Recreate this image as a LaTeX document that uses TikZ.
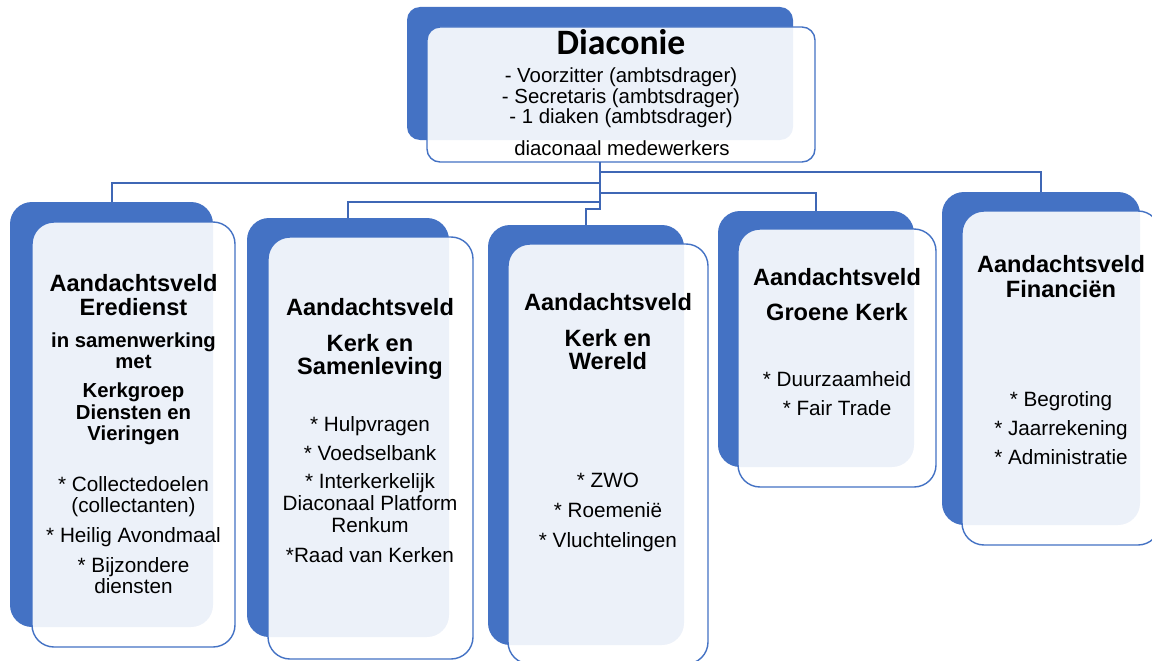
\documentclass[tikz,border=0pt]{standalone}
\usepackage{fontspec}
\setmainfont{Liberation Sans}
\newfontfamily\calibrifont{Carlito}
\definecolor{ablue}{HTML}{4472C4}
\definecolor{lblue}{HTML}{3F67B5}
\begin{document}
\begin{tikzpicture}[x=1pt,y=-1pt,
  backbox/.style={rectangle, fill=ablue, draw=none, rounded corners=22pt, inner sep=0pt, outer sep=0pt},
  frontbox/.style={rectangle, fill=white, fill opacity=0.9, draw=ablue, line width=1.4pt, rounded corners=22pt, inner sep=0pt, outer sep=0pt},
  conn/.style={draw=lblue, line width=2pt},
  ttl/.style={anchor=base, inner sep=0pt, font=\fontsize{23.6}{24}\selectfont\bfseries},
  sub/.style={anchor=base, inner sep=0pt, font=\fontsize{20.3}{21}\selectfont\bfseries},
  itm/.style={anchor=base, inner sep=0pt, font=\fontsize{20.7}{21}\selectfont},
  topitm/.style={anchor=base, inner sep=0pt, font=\fontsize{20.4}{21}\selectfont},
  bigttl/.style={anchor=base, inner sep=0pt, font=\calibrifont\fontsize{35.7}{36}\selectfont\bfseries},
]
\useasboundingbox (0,0) rectangle (1152,661);
\clip (0,0) rectangle (1152,661);

% back boxes
\node[backbox, rounded corners=13pt, minimum width=386pt, minimum height=133pt] (topB) at (600,73.5) {};
\node[backbox, minimum width=203pt, minimum height=425pt] (c1B) at (111.5,414.5) {};
\node[backbox, minimum width=202pt, minimum height=419pt] (c2B) at (348,427.5) {};
\node[backbox, minimum width=196pt, minimum height=420pt] (c3B) at (586,435) {};
\node[backbox, minimum width=196pt, minimum height=256pt] (c4B) at (816,339) {};
\node[backbox, minimum width=198pt, minimum height=333pt] (c5B) at (1041,358.5) {};

% front boxes
\node[frontbox, rounded corners=13pt, minimum width=388pt, minimum height=135pt] (topF) at (621,94.5) {};
\node[frontbox, minimum width=203pt, minimum height=425pt] (c1F) at (133.5,434.5) {};
\node[frontbox, minimum width=205pt, minimum height=422pt] (c2F) at (370.5,448) {};
\node[frontbox, minimum width=200pt, minimum height=420pt] (c3F) at (608,454) {};
\node[frontbox, minimum width=198pt, minimum height=258pt] (c4F) at (837,358) {};
\node[frontbox, minimum width=198pt, minimum height=334pt] (c5F) at (1061,378) {};

% connectors
\coordinate (trunkTop) at (topB.south |- topF.south);
\draw[conn] (trunkTop) -- (600,209) -- (c3B.north |- 0,209) -- (c3B.north);
\draw[conn] (600,172) -- (c5B.north |- 0,172) -- (c5B.north);
\draw[conn] (600,183) -- (c1B.north |- 0,183) -- (c1B.north);
\draw[conn] (600,193) -- (c4B.north |- 0,193) -- (c4B.north);
\draw[conn] (600,202) -- (c2B.north |- 0,202) -- (c2B.north);

% top text
\node[bigttl] (tA) at (621,55) {Diaconie};
\node[topitm] (tB) at (621,82) {- Voorzitter (ambtsdrager)};
\node[topitm] (tC) at (621,103) {- Secretaris (ambtsdrager)};
\node[topitm] (tD) at (621,124) {- 1 diaken (ambtsdrager)};
\node[topitm] (tE) at (622,155) {diaconaal medewerkers};

% column 1
\node[ttl] (a1) at (133.5,291) {Aandachtsveld};
\node[ttl] (a2) at (133.5,315) {Eredienst};
\node[sub] (a3) at (133.5,347) {in samenwerking};
\node[sub] (a4) at (133.5,368) {met};
\node[sub] (a5) at (133.5,397) {Kerkgroep};
\node[sub] (a6) at (133.5,419) {Diensten en};
\node[sub] (a7) at (133.5,440) {Vieringen};
\node[itm] (a8) at (133.5,491.5) {* Collectedoelen};
\node[itm] (a9) at (133.5,512.5) {(collectanten)};
\node[itm] (a10) at (133.5,542.5) {* Heilig Avondmaal};
\node[itm] (a11) at (133.5,572.5) {* Bijzondere};
\node[itm] (a12) at (133.5,593.5) {diensten};

% column 2
\node[ttl] (b1) at (370,315) {Aandachtsveld};
\node[ttl] (b2) at (370,351) {Kerk en};
\node[ttl] (b3) at (370,374) {Samenleving};
\node[itm] (b4) at (370,431) {* Hulpvragen};
\node[itm] (b5) at (370,460) {* Voedselbank};
\node[itm] (b6) at (370,488) {* Interkerkelijk};
\node[itm] (b7) at (370,510) {Diaconaal Platform};
\node[itm] (b8) at (370,532.5) {Renkum};
\node[itm] (b9) at (370,562.5) {*Raad van Kerken};

% column 3
\node[ttl] (d1) at (608,310) {Aandachtsveld};
\node[ttl] (d2) at (608,346) {Kerk en};
\node[ttl] (d3) at (608,369) {Wereld};
\node[itm] (d4) at (608,487) {* ZWO};
\node[itm] (d5) at (608,517) {* Roemenië};
\node[itm] (d6) at (608,547) {* Vluchtelingen};

% column 4
\node[ttl] (e1) at (837,285) {Aandachtsveld};
\node[ttl] (e2) at (837,320) {Groene Kerk};
\node[itm] (e3) at (837,386) {* Duurzaamheid};
\node[itm] (e4) at (837,415) {* Fair Trade};

% column 5
\node[ttl] (f1) at (1061,272.7) {Aandachtsveld};
\node[ttl] (f2) at (1061,297.3) {Financiën};
\node[itm] (f3) at (1061,406.7) {* Begroting};
\node[itm] (f4) at (1061,435) {* Jaarrekening};
\node[itm] (f5) at (1061,464) {* Administratie};
\end{tikzpicture}
\end{document}
